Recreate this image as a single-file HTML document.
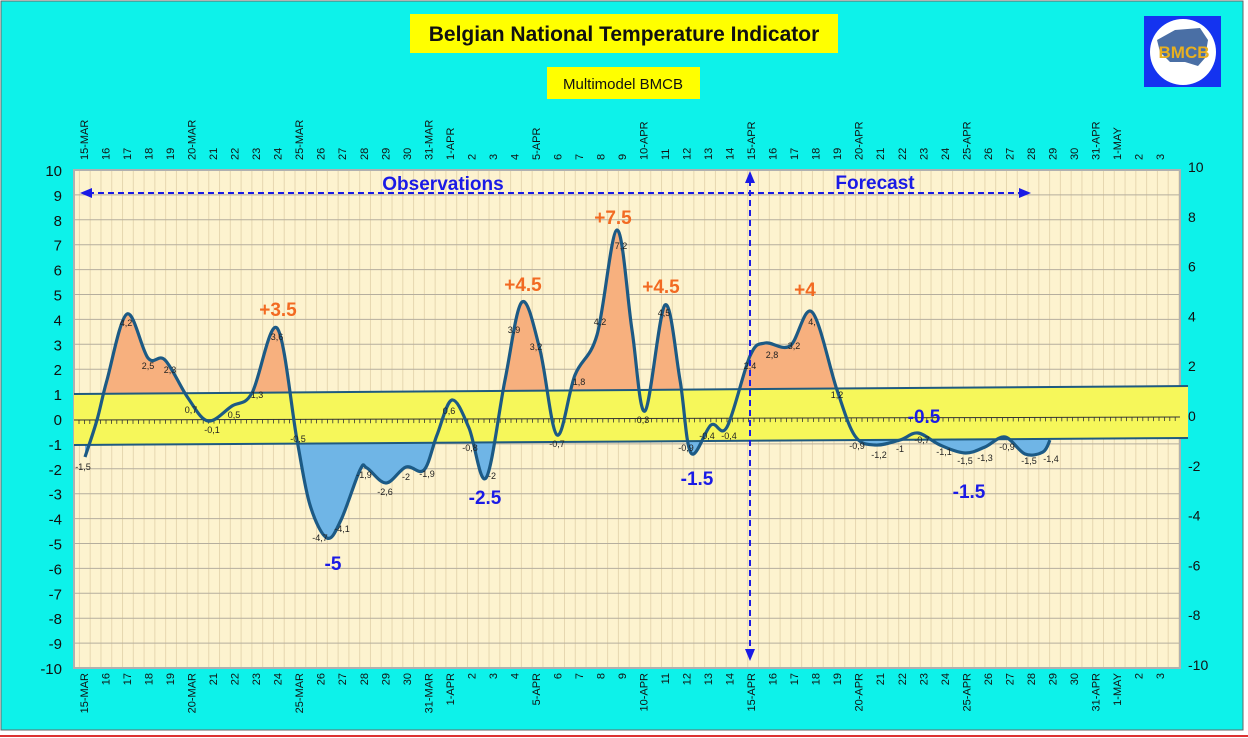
<!DOCTYPE html>
<html><head><meta charset="utf-8"><style>
html,body{margin:0;padding:0;background:#fff;}
svg{display:block;}
svg text{font-family:"Liberation Sans",Arial,sans-serif;}
</style></head><body>
<svg id="s" width="1248" height="738" xmlns="http://www.w3.org/2000/svg" font-family="Liberation Sans, sans-serif">
<rect x="0" y="0" width="1248" height="738" fill="#fff"/>
<rect x="1" y="1" width="1242" height="729" fill="#0df2ea" stroke="#666" stroke-width="1"/>
<line x1="0" y1="736" x2="1248" y2="736" stroke="#d33" stroke-width="2"/>
<rect x="410" y="14" width="428" height="39" fill="#ffff00"/>
<text x="624" y="41" text-anchor="middle" font-size="21" font-weight="bold" fill="#111">Belgian National Temperature Indicator</text>
<rect x="547" y="67" width="153" height="32" fill="#ffff00"/>
<text x="623" y="89" text-anchor="middle" font-size="15" fill="#111">Multimodel BMCB</text>
<rect x="1144" y="16" width="77" height="71" fill="#1433f0"/>
<circle cx="1183" cy="52" r="33" fill="#fff"/>
<path d="M1157 40 L1175 30 L1200 28 L1208 40 L1205 58 L1198 66 L1185 62 L1170 62 L1160 52 Z" fill="#4a6fa5"/>
<text x="1184" y="58" text-anchor="middle" font-size="17" font-weight="bold" fill="#e8b020">BMCB</text>
<g id="plot"></g>
</svg>
<script>
const NS="http://www.w3.org/2000/svg";
const g=document.getElementById('plot');
function el(t,a,txt){const e=document.createElementNS(NS,t);for(const k in a)e.setAttribute(k,a[k]);if(txt!==undefined)e.textContent=txt;g.appendChild(e);return e;}
const L=74,R=1180,T=170,B=668;
const yv=v=>419-v*24.9;
el('rect',{x:L,y:T,width:R-L,height:B-T,fill:'#fdf3cf'});
for(let x=L+5.4;x<R;x+=10.78)el('line',{x1:x,y1:T,x2:x,y2:B,stroke:'#e6d7b0','stroke-width':1});
for(let v=-10;v<=10;v++){if(v==10||v==-10)continue;el('line',{x1:L,y1:yv(v),x2:R,y2:yv(v),stroke:'#b5ae9e','stroke-width':1});}
el('rect',{x:L,y:T,width:R-L,height:B-T,fill:'none',stroke:'#b0b0b0','stroke-width':2});
el('polygon',{points:`${L},394 1188,386 1188,438 ${L},445`,fill:'#f6f75a'});
el('line',{x1:L,y1:420,x2:R,y2:417,stroke:'#333','stroke-width':1});
for(let x=L+5;x<R;x+=5.4){const y=420-3*(x-L)/(R-L);el('line',{x1:x,y1:y,x2:x,y2:y+4,stroke:'#333','stroke-width':0.8});}
for(let v=-10;v<=10;v++)el('text',{x:62,y:yv(v)+6,'text-anchor':'end','font-size':15,fill:'#111'},v);
for(let v=-10;v<=10;v+=2)el('text',{x:1188,y:yv(v)+2,'font-size':14,fill:'#111'},v);
const labs=[];
for(let d=15;d<=31;d++)labs.push(d==15?'15-MAR':d==20?'20-MAR':d==25?'25-MAR':d==31?'31-MAR':''+d);
for(let d=1;d<=31;d++)labs.push(d==1?'1-APR':d==5?'5-APR':d==10?'10-APR':d==15?'15-APR':d==20?'20-APR':d==25?'25-APR':d==31?'31-APR':''+d);
labs.push('1-MAY','2','3');
labs.forEach((s,i)=>{const x=84+i*21.52;
 el('text',{x:0,y:0,'font-size':11,fill:'#111',transform:`translate(${x+4},160) rotate(-90)`},s);
 el('text',{x:0,y:0,'font-size':11,fill:'#111','text-anchor':'end',transform:`translate(${x+4},673) rotate(-90)`},s);
});
const P=[[85,457],[97,420],[107,380],[127,314],[148,358],[165,360],[188,398],[208,421],[232,406],[252,393],[277,328],[297,440],[310,505],[327,538],[341,520],[360,470],[367,468],[386,483],[406,467],[424,470],[437,435],[452,400],[469,428],[486,478],[505,380],[522,302],[540,350],[557,435],[575,375],[597,335],[617,230],[632,330],[645,411],[665,305],[680,380],[691,453],[711,425],[727,427],[750,356],[765,343],[790,346],[812,312],[837,390],[855,436],[875,445],[900,440],[918,433],[940,445],[965,453],[985,447],[1005,437],[1025,454],[1043,452],[1050,440]];
function cr(p){let d=`M${p[0][0]},${p[0][1]}`;for(let i=0;i<p.length-1;i++){const a=p[Math.max(i-1,0)],b=p[i],c=p[i+1],e=p[Math.min(i+2,p.length-1)];
 d+=` C${b[0]+(c[0]-a[0])/6},${b[1]+(c[1]-a[1])/6} ${c[0]-(e[0]-b[0])/6},${c[1]-(e[1]-b[1])/6} ${c[0]},${c[1]}`;}return d;}
const d=cr(P);
const defs=el('defs',{});
const c1=document.createElementNS(NS,'clipPath');c1.setAttribute('id','up');const p1=document.createElementNS(NS,'polygon');p1.setAttribute('points',`${L},${T} ${R},${T} ${R},387 ${L},394`);c1.appendChild(p1);defs.appendChild(c1);
const c2=document.createElementNS(NS,'clipPath');c2.setAttribute('id','dn');const p2=document.createElementNS(NS,'polygon');p2.setAttribute('points',`${L},445 ${R},438 ${R},${B} ${L},${B}`);c2.appendChild(p2);defs.appendChild(c2);
el('path',{d:d+` L1050,420 L85,420 Z`,fill:'#f7b07e','clip-path':'url(#up)'});
el('path',{d:d+` L1050,420 L85,420 Z`,fill:'#6fb5e6','clip-path':'url(#dn)'});
el('line',{x1:L,y1:394,x2:1188,y2:386,stroke:'#1f5a80','stroke-width':2});
el('line',{x1:L,y1:445,x2:1188,y2:438,stroke:'#1f5a80','stroke-width':2});
el('path',{d:d,fill:'none',stroke:'#1c5a85','stroke-width':3.2});
el('line',{x1:88,y1:193,x2:1022,y2:193,stroke:'#1a1ae6','stroke-width':2,'stroke-dasharray':'6,4'});
el('polygon',{points:'80,193 92,188 92,198',fill:'#1a1ae6'});
el('polygon',{points:'1031,193 1019,188 1019,198',fill:'#1a1ae6'});
el('line',{x1:750,y1:180,x2:750,y2:652,stroke:'#1a1ae6','stroke-width':2,'stroke-dasharray':'6,4'});
el('polygon',{points:'750,171 745,183 755,183',fill:'#1a1ae6'});
el('polygon',{points:'750,661 745,649 755,649',fill:'#1a1ae6'});
el('text',{x:443,y:190,'text-anchor':'middle','font-size':19,'font-weight':'bold',fill:'#1a1ae6'},'Observations');
el('text',{x:875,y:189,'text-anchor':'middle','font-size':19,'font-weight':'bold',fill:'#1a1ae6'},'Forecast');
[['+3.5',278,316,'#f26a22'],['+4.5',523,291,'#f26a22'],['+7.5',613,224,'#f26a22'],['+4.5',661,293,'#f26a22'],['+4',805,296,'#f26a22'],
 ['-5',333,570,'#1a1ae6'],['-2.5',485,504,'#1a1ae6'],['-1.5',697,485,'#1a1ae6'],['-0.5',924,423,'#1a1ae6'],['-1.5',969,498,'#1a1ae6']]
 .forEach(a=>el('text',{x:a[1],y:a[2],'text-anchor':'middle','font-size':19,'font-weight':'bold',fill:a[3]},a[0]));
[['-1,5',83,470],['4,2',126,326],['2,5',148,369],['2,3',170,373],['0,7',191,413],['-0,1',212,433],['0,5',234,418],['1,3',257,398],['3,6',277,340],['-0,5',298,442],['-4,7',320,541],['-4,1',342,532],['-1,9',364,478],['-2,6',385,495],['-2',406,480],['-1,9',427,477],['0,6',449,414],['-0,8',470,451],['-2',492,479],['3,9',514,333],['3,2',536,350],['-0,7',557,447],['1,8',579,385],['4,2',600,325],['7,2',621,249],['0,3',643,423],['4,5',664,316],['-0,9',686,451],['-0,4',707,439],['-0,4',729,439],['2,4',750,369],['2,8',772,358],['3,2',794,349],['4,',812,325],['1,2',837,398],['-0,9',857,449],['-1,2',879,458],['-1',900,452],['-0,7',922,443],['-1,1',944,455],['-1,5',965,464],['-1,3',985,461],['-0,9',1007,450],['-1,5',1029,464],['-1,4',1051,462]]
 .forEach(a=>el('text',{x:a[1],y:a[2],'text-anchor':'middle','font-size':9,fill:'#222'},a[0]));
</script>
</body></html>
